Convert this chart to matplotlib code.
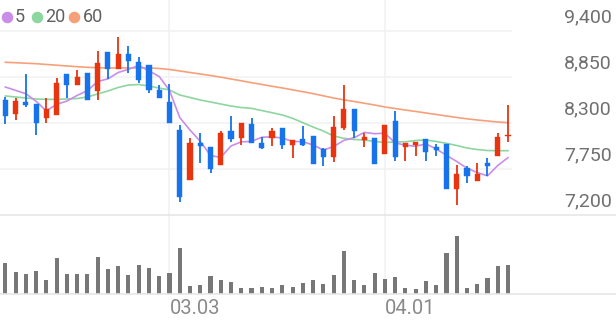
import numpy as np
import matplotlib
matplotlib.use('Agg')
import matplotlib.pyplot as plt
from matplotlib.lines import Line2D

plt.rcParams['font.family'] = ['Roboto', 'DejaVu Sans']

# daily candles (won)
opens = [8570, 8410, 8550, 8530, 8360, 8400, 8890, 8750, 8900, 8680,
         9150, 8940, 9130, 9030, 8990, 8700, 8550, 8220, 7620, 8060,
         8010, 7800, 8200, 8120, 8290, 8060, 8120, 8240, 8040, 8110,
         8150, 7990, 7890, 8240, 8470, 8100, 8120, 7930, 8320, 8010,
         8040, 8110, 8010, 8050, 7510, 7760, 7610, 7820, 7900, 8140]
highs = [8610, 8600, 8880, 8530, 8600, 8840, 8890, 8930, 8900, 9160,
         9150, 9330, 9220, 9090, 8990, 8750, 8770, 8280, 8120, 8180,
         8010, 8210, 8380, 8300, 8360, 8130, 8240, 8240, 8100, 8260,
         8150, 8000, 8380, 8750, 8470, 8180, 8120, 8280, 8440, 8060,
         8070, 8110, 8050, 8050, 7800, 7780, 7820, 7880, 8180, 8520]
lows = [8290, 8330, 8490, 8160, 8300, 8400, 8600, 8750, 8570, 8580,
        8830, 8940, 8900, 8780, 8660, 8600, 8300, 7360, 7620, 7820,
        7700, 7800, 8070, 8040, 8060, 7990, 8020, 7990, 7880, 8020,
        7810, 7790, 7830, 8220, 8120, 8010, 7810, 7930, 7850, 7840,
        7900, 7840, 7900, 7510, 7320, 7580, 7610, 7670, 7900, 8070]
closes = [8380, 8560, 8510, 8300, 8470, 8780, 8750, 8850, 8580, 9020,
          8940, 9130, 9040, 8810, 8700, 8600, 8300, 7420, 8060, 8030,
          7750, 8180, 8110, 8300, 8060, 8000, 8200, 8040, 8100, 8040,
          7810, 7890, 8250, 8470, 8200, 8130, 7810, 8280, 7890, 8060,
          8070, 7950, 7980, 7510, 7690, 7670, 7690, 7780, 8130, 8160]
volumes = [313, 220, 197, 233, 137, 357, 197, 197, 200, 367,
           247, 283, 187, 293, 260, 180, 207, 463, 80, 90,
           183, 137, 117, 57, 60, 70, 60, 87, 70, 110,
           143, 103, 193, 433, 143, 87, 207, 147, 173, 60,
           50, 127, 93, 407, 583, 63, 100, 160, 280, 287]

# moving averages
ma5 = [8730, 8690, 8650, 8560, 8444, 8524, 8562, 8630, 8686, 8796,
       8828, 8904, 8942, 8988, 8924, 8856, 8690, 8366, 8216, 8082,
       7912, 7888, 8026, 8074, 8080, 8130, 8134, 8120, 8080, 8076,
       8038, 7976, 8018, 8092, 8124, 8188, 8172, 8178, 8062, 8034,
       8022, 8050, 7990, 7914, 7840, 7760, 7708, 7668, 7792, 7886]
ma20 = [8623, 8611, 8599, 8587, 8583, 8583, 8587, 8593, 8611, 8647,
        8683, 8725, 8754, 8760, 8742, 8718, 8695, 8635, 8605, 8575,
        8551, 8527, 8503, 8485, 8475, 8449, 8423, 8396, 8356, 8304,
        8252, 8204, 8145, 8117, 8103, 8097, 8079, 8067, 8073, 8076,
        8091, 8097, 8079, 8057, 8031, 8001, 7983, 7971, 7969, 7969]
ma60 = [9026, 9021, 9015, 9009, 9000, 8991, 8982, 8973, 8966, 8961,
        8958, 8958, 8958, 8958, 8958, 8952, 8940, 8922, 8904, 8886,
        8868, 8848, 8826, 8805, 8782, 8761, 8739, 8719, 8697, 8674,
        8651, 8625, 8599, 8577, 8557, 8536, 8515, 8491, 8473, 8455,
        8438, 8420, 8402, 8384, 8366, 8350, 8336, 8324, 8312, 8304]

price_ticks = [7200, 7750, 8300, 8850, 9400]
date_index = [16, 37]
date_labels = ['03.03', '04.01']
ma_names = ['5', '20', '60']

RED = '#e8340f'
BLUE = '#1673eb'
MA_COLORS = ['#c98ee8', '#8ed6a0', '#f6a07a']
GRID = '#f2f2f2'

W, H = 616, 321
fig = plt.figure(figsize=(W / 100, H / 100), dpi=100)

def px_box(x0, y0, x1, y1):
    # pixel box (top-left origin) -> figure fraction rect
    return [x0 / W, 1 - y1 / H, (x1 - x0) / W, (y1 - y0) / H]

ax = fig.add_axes(px_box(0, 0, 512, 215))
axv = fig.add_axes(px_box(0, 215, 512, 294))

idx = np.arange(len(closes))
xlim = (-0.52, 49.39)

# price panel
ax.set_xlim(*xlim)
ax.set_ylim(7200, 7200 + 215 * 550 / 46)
for t in price_ticks[1:]:
    ax.axhline(t, color=GRID, lw=1.2, zorder=0)
for d in date_index:
    ax.axvline(d, color=GRID, lw=1.2, zorder=0)

for i in idx:
    o, h, l, c = opens[i], highs[i], lows[i], closes[i]
    col = RED if c >= o else BLUE
    ax.vlines(i, l, h, color=col, lw=1.3, zorder=3)
    ax.bar(i, max(abs(c - o), 14), bottom=min(o, c), width=0.5,
           color=col, edgecolor=col, lw=0.3, zorder=3)

for ma, col in zip([ma60, ma20, ma5], MA_COLORS[::-1]):
    ax.plot(idx, ma, color=col, lw=1.2, zorder=2)

for t in price_ticks:
    ax.annotate(f'{t:,}', xy=(1, t), xycoords=ax.get_yaxis_transform(),
                xytext=(100, 14), textcoords='offset pixels',
                ha='right', va='center', fontsize=14, color='#707070',
                annotation_clip=False)
ax.axis('off')

# volume panel
axv.set_xlim(*xlim)
axv.set_ylim(0, 790)
for d in date_index:
    axv.axvline(d, color=GRID, lw=1.2, zorder=0)
axv.bar(idx, volumes, width=0.4, color='#777777', zorder=2)
axv.axis('off')

# full-width separator lines
for y in (215, 294):
    fig.add_artist(Line2D([0, 1], [1 - y / H, 1 - y / H], color='#e6e6e6',
                          lw=1.2, transform=fig.transFigure))

# date labels, left edge on the gridline
for d, lab in zip(date_index, date_labels):
    xf = axv.transData.transform((d, 0))[0] / W
    fig.text(xf, 1 - 309 / H, lab, ha='left', va='center',
             fontsize=14.5, color='#8a8a8a')

# legend
leg_dot_x = [6.7, 37.3, 74]
leg_txt_x = [15, 45.5, 82.5]
for dx, tx, name, col in zip(leg_dot_x, leg_txt_x, ma_names, MA_COLORS):
    fig.add_artist(Line2D([dx / W], [1 - 16.7 / H], marker='o', ms=7.3,
                          color=col, mec=col, transform=fig.transFigure))
    fig.text(tx / W, 1 - 16.5 / H, name, ha='left', va='center',
             fontsize=13, color='#606060')

fig.savefig('out.png', dpi=100)
